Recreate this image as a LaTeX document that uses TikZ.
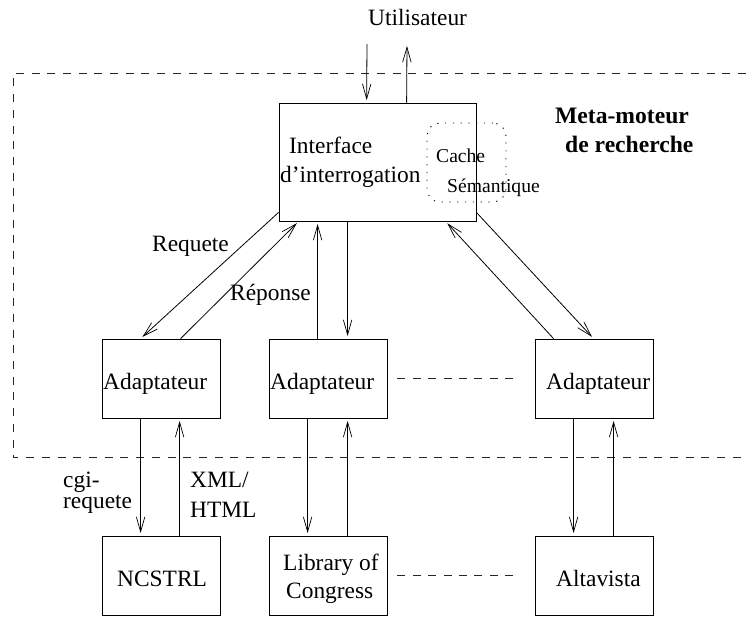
\documentclass[tikz,border=0pt]{standalone}
\usepackage{fontspec}
\setmainfont{Liberation Serif}
\usetikzlibrary{arrows.meta}
\begin{document}
\begin{tikzpicture}[x=1pt,y=-1pt,
 boxn/.style={draw,line width=0.8pt,inner sep=0pt},
 smallbox/.style={boxn,minimum width=118pt,minimum height=79pt},
 arr/.style={line width=0.8pt,shorten >=2.5pt,-{Straight Barb[length=15pt,width=8.5pt,line width=0.7pt]}},
 dsh/.style={dash pattern=on 8pt off 7.7pt,line width=0.9pt,black!85},
 txt/.style={font=\fontsize{23.4}{28}\selectfont,inner sep=0pt,anchor=base west},
 btxt/.style={font=\fontsize{23.6}{28}\bfseries\selectfont,inner sep=0pt,anchor=base west},
 stxt/.style={font=\fontsize{19.6}{23}\selectfont,inner sep=0pt,anchor=base west}]
\useasboundingbox (0,0) rectangle (751,616);
\coordinate (fa) at (746,73.5); \coordinate (fb) at (13,73.5);
\coordinate (fc) at (13,457.7); \coordinate (fd) at (746,457.7);
\draw[dsh] (fa) -- (fb) -- (fc) -- (fd);
\node[boxn,minimum width=197pt,minimum height=118pt] (iface) at (377.5,162) {};
\node[smallbox] (a1) at (161,378.5) {};
\node[smallbox] (a2) at (328,378.5) {};
\node[smallbox] (a3) at (594,378.5) {};
\node[smallbox] (s1) at (161,575.5) {};
\node[smallbox] (s2) at (328,575.5) {};
\node[smallbox] (s3) at (594,575.5) {};
\node[txt] (u) at (368,25) {Utilisateur};
\node[btxt] (m1) at (555,123) {Meta-moteur};
\node[btxt] (m2) at (565,152) {de recherche};
\node[txt] (t1) at (289,153) {Interface};
\node[txt] (t2) at (280,182) {d’interrogation};
\node[stxt] (c1) at (436,162) {Cache};
\node[stxt] (c2) at (447,192) {Sémantique};
\node[draw,dash pattern=on 1.2pt off 6.6pt,line width=0.9pt,rounded corners=13pt,minimum width=79pt,minimum height=79pt,inner sep=0pt] (cache) at (466.5,162.5) {};
\node[txt] (req) at (152,251) {Requete};
\node[txt] (rep) at (230,300) {Réponse};
\node[txt] (ta1) at (103,389) {Adaptateur};
\node[txt] (ta2) at (270,389) {Adaptateur};
\node[txt] (ta3) at (546,389) {Adaptateur};
\node[txt] (cg1) at (63,487) {cgi-};
\node[txt] (cg2) at (63,508) {requete};
\node[txt] (x1) at (190,487) {XML/};
\node[txt] (x2) at (190,517) {HTML};
\node[txt] (n1) at (117,586) {NCSTRL};
\node[txt] (n2) at (283,570) {Library of};
\node[txt] (n3) at (286,598) {Congress};
\node[txt] (n4) at (556,586) {Altavista};
\coordinate (u1) at (367,44); \coordinate (u2) at (407,43.5);
\draw[arr] (u1) -- ([xshift=88pt]iface.north west);
\draw[arr] ([xshift=128pt]iface.north west) -- (u2);
\draw[arr] ([yshift=9pt]iface.south west) -- ([xshift=39pt]a1.north west);
\draw[arr] ([xshift=79pt]a1.north west) -- ([xshift=20pt]iface.south west);
\draw[arr] ([xshift=49pt]a2.north west) -- ([xshift=39pt]iface.south west);
\draw[arr] ([xshift=69pt]iface.south west) -- ([xshift=79pt]a2.north west);
\draw[arr] ([xshift=19pt]a3.north west) -- ([xshift=167pt]iface.south west);
\draw[arr] ([yshift=9pt]iface.south east) -- ([xshift=59pt]a3.north west);
\draw[arr] ([xshift=39pt]a1.south west) -- ([xshift=39pt]s1.north west);
\draw[arr] ([xshift=78pt]s1.north west) -- ([xshift=78pt]a1.south west);
\draw[arr] ([xshift=39pt]a2.south west) -- ([xshift=39pt]s2.north west);
\draw[arr] ([xshift=79pt]s2.north west) -- ([xshift=79pt]a2.south west);
\draw[arr] ([xshift=39pt]a3.south west) -- ([xshift=39pt]s3.north west);
\draw[arr] ([xshift=79pt]s3.north west) -- ([xshift=79pt]a3.south west);
\draw[dsh,dash pattern=on 8pt off 7.4pt] ([xshift=10pt]a2.east) -- ([xshift=-19pt]a3.west);
\draw[dsh,dash pattern=on 8pt off 7.4pt] ([xshift=10pt]s2.east) -- ([xshift=-19pt]s3.west);
\end{tikzpicture}
\end{document}
